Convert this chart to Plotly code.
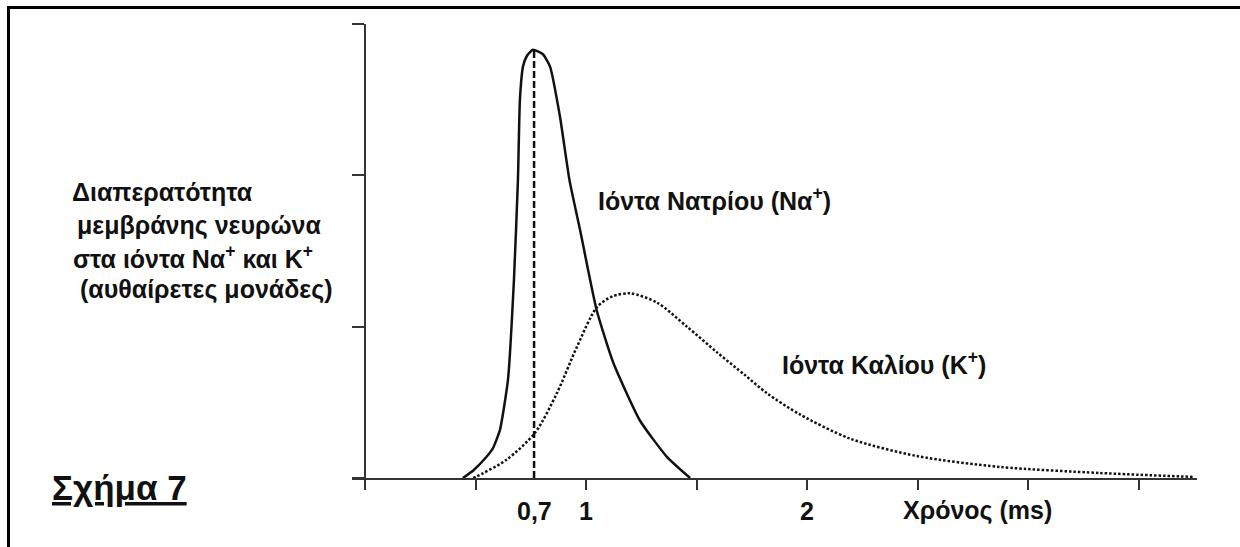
import plotly.graph_objects as go

# ---- data ----
na_time = [0.443, 0.49, 0.55, 0.58, 0.611, 0.647, 0.674, 0.692, 0.701, 0.715, 0.733,
           0.760, 0.805, 0.837, 0.882, 0.925, 0.973, 1.048, 1.124, 1.244, 1.366, 1.471]
na_perm = [0.0, 0.05, 0.14, 0.20, 0.32, 0.65, 1.31, 1.97, 2.50, 2.72, 2.79,
           2.83, 2.80, 2.72, 2.39, 1.97, 1.64, 1.11, 0.76, 0.38, 0.14, 0.0]

k_time = [0.49, 0.505, 0.64, 0.77, 0.868, 0.96, 1.05, 1.12, 1.20, 1.32, 1.457,
          1.593, 1.719, 1.819, 1.968, 2.195, 2.498, 2.873, 3.326, 3.75]
k_perm = [0.0, 0.01, 0.12, 0.30, 0.56, 0.87, 1.13, 1.20, 1.22, 1.16, 1.00,
          0.83, 0.68, 0.56, 0.42, 0.26, 0.145, 0.073, 0.033, 0.007]

peak_time = 0.765
peak_perm = 2.83

x_tick_vals = [0, 0.5, 1, 1.5, 2, 2.5, 3, 3.5]
y_tick_vals = [0, 1, 2, 3]
x_label_vals = [peak_time, 1, 2]
x_label_text = ["0,7", "1", "2"]

FONT = "Liberation Sans, Arial, sans-serif"
INK = "#111111"
W, H = 1240, 547
ML, MR, MT, MB = 352, 43, 24, 69
PW, PH = W - ML - MR, H - MT - MB


def px_x(px):
    return (px - ML) / PW


def px_y(py):
    return (H - MB - py) / PH


def txt(s, size, x, y, xanchor="left", xref="paper"):
    return dict(x=x, y=y, xref=xref, yref="paper", text="<b>" + s + "</b>",
                showarrow=False, xanchor=xanchor, yanchor="middle",
                borderpad=0, borderwidth=0,
                font=dict(family=FONT, size=size, color=INK))


fig = go.Figure()
fig.add_trace(go.Scatter(x=na_time, y=na_perm, mode="lines",
                         line=dict(color=INK, width=2.5, shape="spline", smoothing=0.5),
                         hoverinfo="skip", showlegend=False))
fig.add_trace(go.Scatter(x=k_time, y=k_perm, mode="lines",
                         line=dict(color=INK, width=2.5, dash="2.5px,2px", shape="spline", smoothing=0.8),
                         hoverinfo="skip", showlegend=False))
fig.add_trace(go.Scatter(x=[peak_time, peak_time], y=[0, peak_perm], mode="lines",
                         line=dict(color=INK, width=2.5, dash="7px,3px"),
                         hoverinfo="skip", showlegend=False))

ann = []
for v, t in zip(x_label_vals, x_label_text):
    ann.append(txt(t, 25, v, px_y(511), xanchor="center", xref="x"))
ann.append(txt("Χρόνος (ms)", 25, px_x(903), px_y(510)))
ann.append(txt("Ιόντα Νατρίου (Να<sup>+</sup>)", 25, px_x(598), px_y(199)))
ann.append(txt("Ιόντα Καλίου (Κ<sup>+</sup>)", 25, px_x(782), px_y(363)))

ylabel_lines = ["Διαπερατότητα", "μεμβράνης νευρώνα",
                "στα ιόντα Να<sup>+</sup> και Κ<sup>+</sup>", "(αυθαίρετες μονάδες)"]
ylabel_left = [72, 77, 73, 80]
ylabel_mid = [192, 225, 257, 289]
for t, lx, my in zip(ylabel_lines, ylabel_left, ylabel_mid):
    ann.append(txt(t, 25, px_x(lx), px_y(my)))

ann.append(txt("<u>Σχήμα 7</u>", 35, px_x(52), px_y(487)))

fig.update_layout(
    width=W, height=H,
    margin=dict(l=ML, r=MR, t=MT, b=MB, pad=0),
    paper_bgcolor="white", plot_bgcolor="white",
    xaxis=dict(range=[-(365 - ML) / 221.0, (W - MR - 365) / 221.0],
               showgrid=False, zeroline=False, showline=True, linecolor="#333333", linewidth=1.8,
               ticks="outside", ticklen=10, tickwidth=1.5, tickcolor="#333333",
               tickvals=x_tick_vals, showticklabels=False, fixedrange=True),
    yaxis=dict(range=[0, 3], anchor="free", position=px_x(365),
               showgrid=False, zeroline=False, showline=True, linecolor="#333333", linewidth=1.8,
               ticks="outside", ticklen=12, tickwidth=1.5, tickcolor="#333333",
               tickvals=y_tick_vals, showticklabels=False, fixedrange=True),
    annotations=ann,
    shapes=[dict(type="rect", xref="paper", yref="paper",
                 x0=px_x(8.5), x1=px_x(1400), y0=px_y(7.5), y1=px_y(700),
                 line=dict(color="#000000", width=3), fillcolor="rgba(0,0,0,0)", layer="above")],
)

fig.write_html("out.html", config={"displayModeBar": False})
